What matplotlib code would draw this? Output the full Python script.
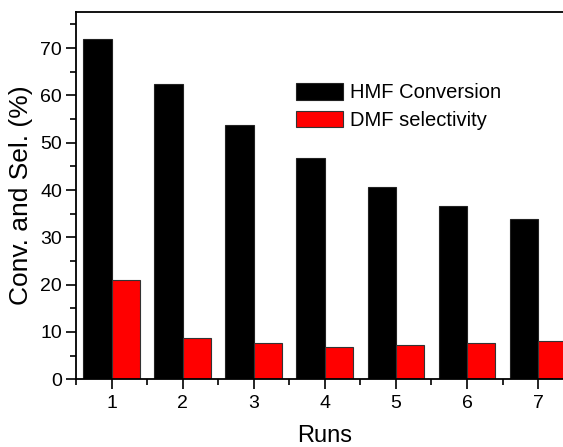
import matplotlib
matplotlib.use("Agg")
import matplotlib.pyplot as plt
from matplotlib.ticker import MultipleLocator

plt.rcParams['font.family'] = ['Liberation Sans', 'DejaVu Sans']

runs = [1, 2, 3, 4, 5, 6, 7]
hmf_conversion = [72.0, 62.4, 53.8, 46.7, 40.6, 36.6, 33.8]
dmf_selectivity = [21.0, 8.7, 7.6, 6.8, 7.3, 7.7, 8.0]

fig = plt.figure(figsize=(5.63, 4.47), dpi=100)
ax = fig.add_axes([0.135, 0.1515, 0.884, 0.8225])

w = 0.4
ax.bar([r - w / 2 for r in runs], hmf_conversion, width=w, color='black',
       edgecolor='#222222', linewidth=0.8, label='HMF Conversion')
ax.bar([r + w / 2 for r in runs], dmf_selectivity, width=w, color='#ff0000',
       edgecolor='#333333', linewidth=0.8, label='DMF selectivity')

ax.set_xlim(0.5, 7.5)
ax.set_ylim(0, 77.7)
ax.xaxis.set_major_locator(MultipleLocator(1))
ax.xaxis.set_minor_locator(MultipleLocator(0.5))
ax.yaxis.set_major_locator(MultipleLocator(10))
ax.yaxis.set_minor_locator(MultipleLocator(5))
ax.tick_params(which='both', direction='out', width=1.2, labelsize=14)
ax.tick_params(which='major', length=7)
ax.tick_params(which='minor', length=4)
ax.tick_params(axis='x', pad=4)
ax.tick_params(axis='y', pad=3)
for s in ax.spines.values():
    s.set_linewidth(1.3)

ax.set_xlabel('Runs', fontsize=17, labelpad=10)
ax.set_ylabel('Conv. and Sel. (%)', fontsize=19, labelpad=5)

ax.legend(loc='upper left', bbox_to_anchor=(296 / 563, 1 - 83 / 447),
          bbox_transform=fig.transFigure, frameon=False, fontsize=14.5,
          handlelength=2.35, handleheight=0.9, handletextpad=0.35,
          labelspacing=0.42, borderaxespad=0, borderpad=0)

fig.savefig('out.png', dpi=100)
